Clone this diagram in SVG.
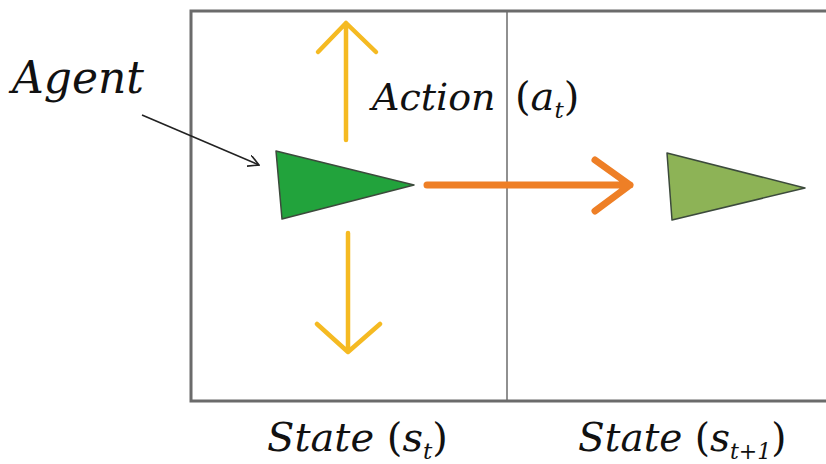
<svg xmlns="http://www.w3.org/2000/svg" width="826" height="464" viewBox="0 0 826 464">
<defs>
<style>
.up{font-style:normal}
.frame{stroke:#6b6b6b;stroke-width:3;fill:none}
.div{stroke:#6b6b6b;stroke-width:1.5}
.yel{stroke:#F5BA22;stroke-width:4.5;fill:none;stroke-linecap:round;stroke-linejoin:round}
.org{stroke:#EE7F26;stroke-width:7;fill:none;stroke-linecap:round;stroke-linejoin:round}
.tri{stroke:#3c4a3c;stroke-width:1.5;stroke-linejoin:round}
</style>
<marker id="ah" viewBox="0 0 12 12" refX="11" refY="6" markerWidth="12" markerHeight="12" markerUnits="userSpaceOnUse" orient="auto">
<path d="M0,0 L11,6 L0,12" fill="none" stroke="#222" stroke-width="1.6"/>
</marker>
</defs>
<rect width="826" height="464" fill="#fff"/>
<g id="grid">
<path class="frame" d="M826,11 H191 V401 H826"/>
<line class="div" x1="507" y1="11" x2="507" y2="401"/>
</g>
<g id="agent">
<polygon class="tri" points="276,151 414,185 282,219" fill="#22A33C"/>
</g>
<g id="next-agent">
<polygon class="tri" points="667,153 805,188 672,220" fill="#8DB356"/>
</g>
<g id="connectors">
<line x1="142" y1="115" x2="259" y2="165" stroke="#222" stroke-width="1.6" marker-end="url(#ah)"/>
<path class="yel" d="M346,140 V23 M318,52 L346,23 L376,52"/>
<path class="yel" d="M348,233 V352 M317,324 L348,352 L380,324"/>
<path class="org" d="M427,185 H630 M595,160 L630,185 L595,211"/>
</g>
<g id="labels" font-family="'DejaVu Serif', serif" font-style="italic" fill="#111">
<text x="12" y="93" font-size="44">Agent</text>
<text x="372" y="110" font-size="38">Action</text>
<text x="515" y="110" font-size="40"><tspan class="up">(</tspan>a<tspan font-size="23" dy="8">t</tspan><tspan class="up" dy="-8">)</tspan></text>
<text x="267" y="451" font-size="40">State <tspan class="up">(</tspan>s<tspan font-size="23" dy="8">t</tspan><tspan class="up" dy="-8">)</tspan></text>
<text x="578" y="451" font-size="39">State <tspan class="up">(</tspan>s<tspan font-size="22" dy="8">t+1</tspan><tspan class="up" dy="-8">)</tspan></text>
</g>
</svg>
